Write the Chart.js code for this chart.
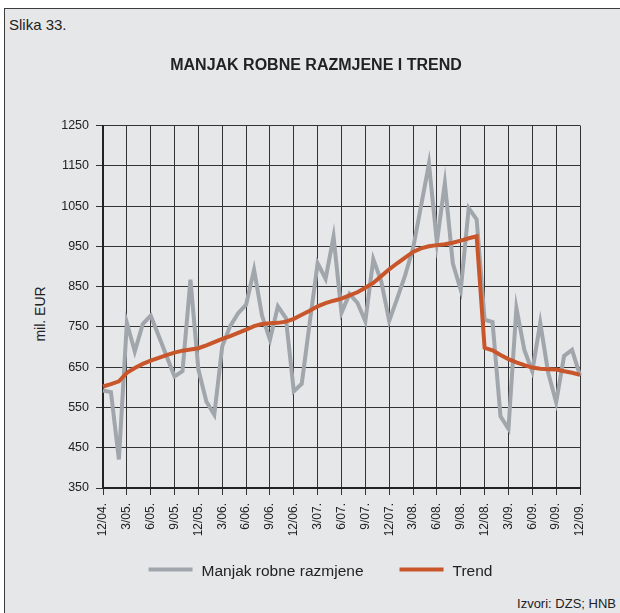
<!DOCTYPE html>
<html>
<head>
<meta charset="utf-8">
<script src="https://cdn.jsdelivr.net/npm/chart.js@4/dist/chart.umd.min.js"></script>
<style>
    body { margin: 0; background: #ffffff; }
    #okvir {
        position: absolute; left: 4px; top: 8px; width: 616px; height: 605px;
        background: #e6e7e9; border-top: 1px solid #3c3c3c; border-left: 1px solid #3c3c3c;
    }
    .tekst { position: absolute; font-family: "Liberation Sans", Arial, sans-serif; color: #222; line-height: 1; white-space: nowrap; }
    #slika { left: 9px; top: 17px; font-size: 15px; }
    #jedinica { left: 40px; top: 314px; font-size: 14px; transform: translate(-50%, -50%) rotate(-90deg); }
    #izvor { right: 4px; top: 597px; font-size: 13px; }
    canvas { position: absolute; left: 0; top: 0; }
</style>
</head>
<body>
<div id="okvir"></div>
<div class="tekst" id="slika">Slika 33.</div>
<div class="tekst" id="jedinica">mil. EUR</div>
<div class="tekst" id="izvor">Izvori: DZS; HNB</div>
<canvas id="grafikon" width="620" height="613"></canvas>
<script>
// Mjesecni podaci 12/04. - 12/09. (mil. EUR)
const manjak = [
    592, 588, 421, 760, 689, 757, 778, 728, 677, 627, 640, 867, 644,
    565, 532, 702, 752, 784, 805, 892, 778, 718, 801, 772, 590,
    609, 760, 908, 869, 974, 785, 832, 810, 764, 918, 863, 765,
    820, 878, 945, 1050, 1155, 960, 1107, 908, 842, 1045, 1017, 768,
    762, 528, 497, 797, 693, 640, 760, 636, 563, 678, 693, 629
];

const trend = [
    602, 608, 615, 636, 648, 658, 666, 673, 680, 686, 691, 694, 697,
    704, 712, 720, 727, 735, 743, 752, 757, 759, 760, 763, 770,
    780, 790, 801, 809, 815, 820, 828, 836, 847, 859, 876, 893,
    908, 922, 936, 945, 950, 953, 955, 959, 964, 970, 975, 698,
    692, 680, 670, 662, 655, 649, 646, 645, 644, 640, 636, 631
];

// Oznake mjeseci (prikazuje se svaka treca)
let mjeseci = [];
for (let g = 4; g <= 9; g++) {
    for (let m = 1; m <= 12; m++) {
        if (g === 4 && m < 12) continue;
        mjeseci.push(m + '/0' + g + '.');
    }
}

const SIVA = '#a0a6ab';
const NARANCASTA = '#c9562b';
const LIJEVO = 52;

Chart.defaults.font.family = '"Liberation Sans", Arial, sans-serif';
Chart.defaults.color = '#222';

// Legenda ispod grafa: linija + tekst, centrirano
const legendaDolje = {
    id: 'legendaDolje',
    afterDraw(chart) {
        const ctx = chart.ctx;
        const skupovi = chart.data.datasets;
        const duljina = 44, razmak = 9, izmedju = 36;
        ctx.save();
        ctx.font = '15.5px "Liberation Sans", Arial, sans-serif';
        ctx.textBaseline = 'middle';
        ctx.fillStyle = '#222';
        let ukupno = 0;
        skupovi.forEach((ds, i) => {
            ukupno += duljina + razmak + ctx.measureText(ds.label).width;
            if (i > 0) ukupno += izmedju;
        });
        let x = 320.5 - ukupno / 2;
        const y = 570;
        skupovi.forEach(ds => {
            ctx.fillStyle = ds.borderColor;
            ctx.fillRect(x, y - 2.5, duljina, 4);
            ctx.fillStyle = '#222';
            ctx.fillText(ds.label, x + duljina + razmak, y + 1.5);
            x += duljina + razmak + ctx.measureText(ds.label).width + izmedju;
        });
        ctx.restore();
    }
};

new Chart(document.getElementById('grafikon'), {
    type: 'line',
    data: {
        labels: mjeseci,
        datasets: [
            {
                label: 'Manjak robne razmjene',
                data: manjak,
                borderColor: SIVA,
                backgroundColor: SIVA,
                borderWidth: 4,
                pointRadius: 0,
                tension: 0,
                order: 1
            },
            {
                label: 'Trend',
                data: trend,
                borderColor: NARANCASTA,
                backgroundColor: NARANCASTA,
                borderWidth: 4,
                pointRadius: 0,
                tension: 0,
                order: 0
            }
        ]
    },
    options: {
        responsive: false,
        animation: false,
        layout: { padding: { top: 8, left: LIJEVO, right: 40, bottom: 50 } },
        plugins: {
            title: {
                display: true,
                text: 'MANJAK ROBNE RAZMJENE I TREND',
                font: { size: 16, weight: 'bold' },
                color: '#222',
                padding: { top: 48.4, bottom: 49.9 }
            },
            legend: { display: false },
            tooltip: { enabled: false }
        },
        scales: {
            x: {
                ticks: {
                    autoSkip: false,
                    minRotation: 90,
                    maxRotation: 90,
                    padding: 8,
                    font: { size: 12 },
                    color: '#222',
                    callback: function (val, i) { return i % 3 === 0 ? this.getLabelForValue(val) : null; }
                },
                grid: { color: '#333', lineWidth: 1, tickLength: 7 },
                border: { color: '#222', width: 2 },
                afterFit: s => { s.height = 613 - 50 - 488; }
            },
            y: {
                min: 350,
                max: 1250,
                ticks: { stepSize: 100, padding: 7, font: { size: 12.5 }, color: '#222', callback: v => String(v) },
                grid: { color: '#333', lineWidth: 1, tickLength: 7 },
                border: { color: '#222', width: 2 },
                afterFit: s => { s.width = 103 - LIJEVO; }
            }
        }
    },
    plugins: [legendaDolje]
});
</script>
</body>
</html>
